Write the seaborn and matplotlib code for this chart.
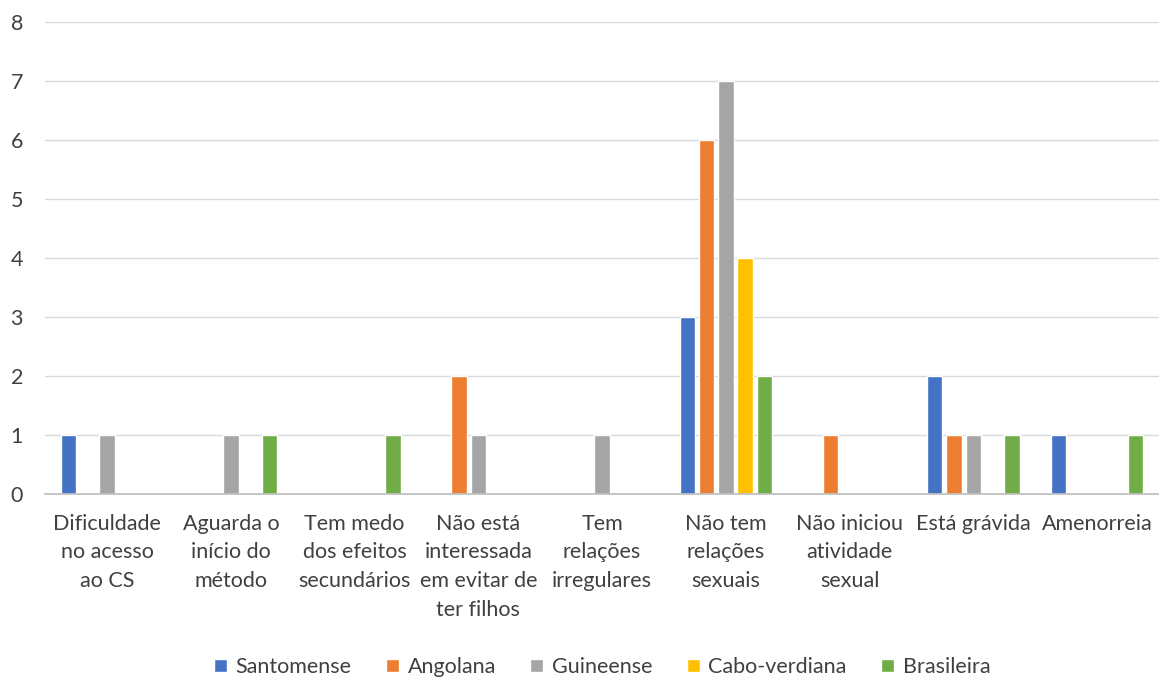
import matplotlib
matplotlib.use("Agg")
import matplotlib.pyplot as plt
import seaborn as sns
import pandas as pd

categories = ["Dificuldade\nno acesso\nao CS", "Aguarda o\ninício do\nmétodo",
              "Tem medo\ndos efeitos\nsecundários", "Não está\ninteressada\nem evitar de\nter filhos",
              "Tem\nrelações\nirregulares", "Não tem\nrelações\nsexuais",
              "Não iniciou\natividade\nsexual", "Está grávida", "Amenorreia"]
santomense = [1, 0, 0, 0, 0, 3, 0, 2, 1]
angolana = [0, 0, 0, 2, 0, 6, 1, 1, 0]
guineense = [1, 1, 0, 1, 1, 7, 0, 1, 0]
caboverdiana = [0, 0, 0, 0, 0, 4, 0, 0, 0]
brasileira = [0, 1, 1, 0, 0, 2, 0, 1, 1]
series_names = ["Santomense", "Angolana", "Guineense", "Cabo-verdiana", "Brasileira"]
colors = ["#4472C4", "#ED7D31", "#A5A5A5", "#FFC000", "#70AD47"]

rows = []
for name, vals in zip(series_names, [santomense, angolana, guineense, caboverdiana, brasileira]):
    for c, v in zip(categories, vals):
        rows.append({"cat": c, "serie": name, "val": v})
df = pd.DataFrame(rows)

sns.set_theme(style="white")
plt.rcParams["font.family"] = ["Lato", "DejaVu Sans"]

fig = plt.figure(figsize=(11.59, 6.77), dpi=100)
ax = fig.add_axes([0.039, 0.270, 0.961, 0.6975])
sns.barplot(data=df, x="cat", y="val", hue="serie", hue_order=series_names,
            palette=colors, saturation=1, width=0.78, gap=0.2, ax=ax, legend=True)

ax.set_ylim(0, 8)
ax.set_yticks(range(0, 9))
ax.set_xlim(-0.5, len(categories) - 0.5)
ax.yaxis.grid(True, color="#D9D9D9", linewidth=1)
ax.set_axisbelow(True)
for s in ["top", "right", "left"]:
    ax.spines[s].set_visible(False)
ax.spines["bottom"].set_color("#BFBFBF")
ax.set_xlabel("")
ax.set_ylabel("")
ax.tick_params(axis="both", length=0, labelsize=15.5, colors="#404040")
ax.tick_params(axis="x", pad=14)
ax.tick_params(axis="y", pad=16)
for lab in ax.get_xticklabels():
    lab.set_verticalalignment("top")
    lab.set_linespacing(1.55)

ax.legend(loc="center", bbox_to_anchor=(0.5, -0.366), ncol=5, frameon=False,
          fontsize=15.5, handlelength=0.6, handleheight=0.6, columnspacing=1.6,
          handletextpad=0.4, labelcolor="#404040")
fig.savefig("out.png", dpi=100)
